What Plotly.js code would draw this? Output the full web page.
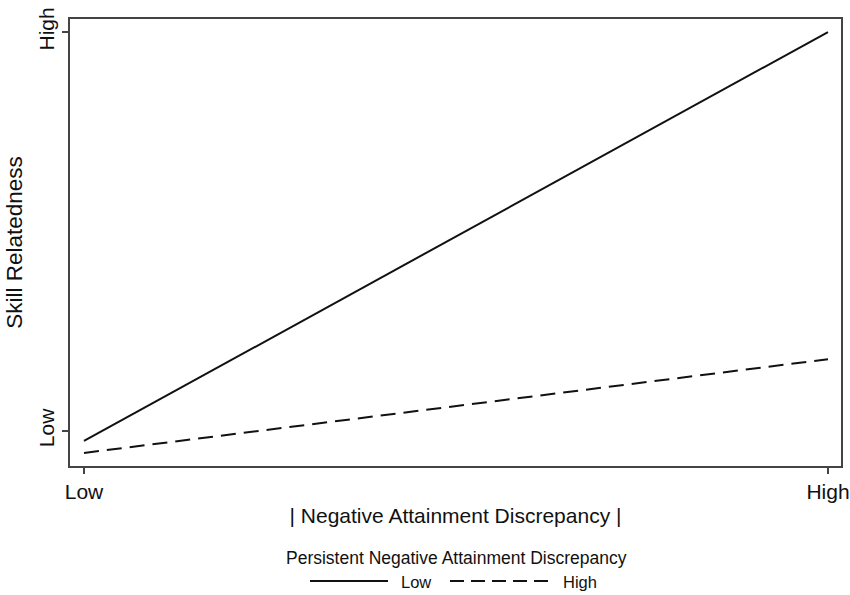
<!DOCTYPE html>
<html>
<head>
<meta charset="utf-8">
<script src="https://cdn.plot.ly/plotly-3.0.1.min.js"></script>
<style>html,body{margin:0;padding:0;background:#fff;}#chart{width:850px;height:595px;}</style>
</head>
<body>
<div id="chart"></div>
<script>
// Data (Low = 0, High = 1 on both axes)
const xPoints = [0, 1];
const lowPersistent = [-0.025, 1.0];
const highPersistent = [-0.055, 0.18];
const tickValues = [0, 1];
const tickLabels = ['Low', 'High'];
const seriesNames = ['Low', 'High'];

const FONT = 'Liberation Sans, Arial, Helvetica, sans-serif';
const W = 771, H = 447, L = 70, T = 466; // plot width, height, left edge, bottom edge
const px = v => (v - L) / W;
const py = v => -(v - T) / H;

const traces = [
  {x: xPoints, y: lowPersistent, mode: 'lines', name: seriesNames[0],
   line: {color: '#111', width: 2, dash: 'solid'}, showlegend: false},
  {x: xPoints, y: highPersistent, mode: 'lines', name: seriesNames[1],
   line: {color: '#111', width: 2, dash: '15px,8px'}, showlegend: false}
];

const layout = {
  width: 850, height: 595,
  margin: {l: 70, r: 9, t: 19, b: 129},
  paper_bgcolor: '#fff', plot_bgcolor: '#fff',
  font: {family: FONT, color: '#111', size: 21},
  xaxis: {
    range: [-0.0188, 1.0175], tickvals: tickValues, ticktext: tickLabels,
    showgrid: false, zeroline: false, showline: true, mirror: true,
    linecolor: '#444', linewidth: 2, ticks: 'outside', ticklen: 6, tickwidth: 1.5, tickcolor: '#444',
    tickfont: {size: 21, family: FONT}, ticklabeloverflow: 'allow', fixedrange: true,
    title: {text: '| Negative Attainment Discrepancy |', font: {size: 21, family: FONT}, standoff: 6}
  },
  yaxis: {
    range: [-0.0877, 1.0326], tickvals: tickValues, ticktext: tickLabels, tickangle: -90,
    showgrid: false, zeroline: false, showline: true, mirror: true,
    linecolor: '#444', linewidth: 2, ticks: 'outside', ticklen: 6, tickwidth: 1.5, tickcolor: '#444',
    tickfont: {size: 21, family: FONT}, ticklabeloverflow: 'allow', fixedrange: true,
    title: {text: 'Skill Relatedness', font: {size: 22.5, family: FONT}, standoff: 6}
  },
  shapes: [
    {type: 'line', xref: 'paper', yref: 'paper', x0: px(310), x1: px(388),
     y0: py(581), y1: py(581), line: {color: '#111', width: 2}},
    {type: 'line', xref: 'paper', yref: 'paper', x0: px(450), x1: px(548),
     y0: py(581), y1: py(581), line: {color: '#111', width: 2, dash: '14px,7px'}}
  ],
  annotations: [
    {text: 'Persistent Negative Attainment Discrepancy', xref: 'paper', yref: 'paper',
     x: px(456), y: py(558), showarrow: false, xanchor: 'center', yanchor: 'middle',
     font: {size: 17.5, family: FONT, color: '#111'}},
    {text: seriesNames[0], xref: 'paper', yref: 'paper', x: px(399), y: py(582),
     showarrow: false, xanchor: 'left', yanchor: 'middle', font: {size: 16.5, family: FONT, color: '#111'}},
    {text: seriesNames[1], xref: 'paper', yref: 'paper', x: px(561), y: py(582),
     showarrow: false, xanchor: 'left', yanchor: 'middle', font: {size: 16.5, family: FONT, color: '#111'}}
  ],
  showlegend: false
};

Plotly.newPlot('chart', traces, layout, {displayModeBar: false, staticPlot: true});
</script>
</body>
</html>
